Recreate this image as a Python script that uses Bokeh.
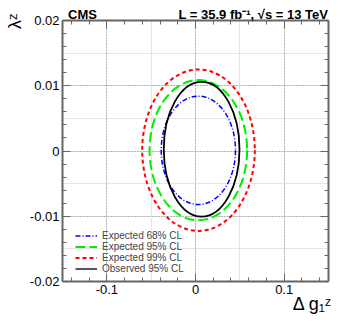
from bokeh.plotting import figure
from bokeh.models import (LinearAxis, FixedTicker, Legend, LegendItem, Range1d, Grid)
from bokeh.embed import file_html
from bokeh.resources import INLINE

# ---- data ----
contour_names = ["Expected 68% CL", "Expected 95% CL", "Expected 99% CL", "Observed 95% CL"]
center_dg1z = [0.0032, 0.0032, 0.0034, 0.0069]
center_lamz = [0.0001, 0.00012, 0.00012, 0.00027]
width_dg1z = [0.0838, 0.110, 0.127, 0.0854]
height_lamz = [0.01661, 0.02149, 0.02475, 0.02066]

x_major = [-0.1, 0.0, 0.1]
x_labels = ["-0.1", "0", "0.1"]
x_minor = [-0.14, -0.12, -0.08, -0.06, -0.04, -0.02, 0.02, 0.04, 0.06, 0.08, 0.12, 0.14]
y_major = [-0.02, -0.01, 0.0, 0.01, 0.02]
y_labels = ["-0.02", "-0.01", "0", "0.01", "0.02"]
y_minor = [-0.018, -0.016, -0.014, -0.012, -0.008, -0.006, -0.004, -0.002,
           0.002, 0.004, 0.006, 0.008, 0.012, 0.014, 0.016, 0.018]

header_texts = ["CMS", "L = 35.9 fb\u207b\u00b9, \u221as = 13 TeV"]
x_title = "\u0394 g\u2081\u1dbb"
y_title = "\u03bb\u1dbb"

# text anchor positions (layout, in axis units)
header_pos = [-0.1274, 0.0652]
x_title_pos = [0.1320]
y_title_pos = [0.0199]

colors = ["#0000ff", "#00ee00", "#ff0000", "#000000"]
legend_colors = ["#0000ff", "#00ee00", "#ff0000", "#444444"]
dashes = ["5 2 1 2", "10 4", "4 3", "solid"]
widths = [1.5, 2, 2, 1.8]

FONT = "Liberation Sans"

p = figure(width=333, height=317, output_backend="svg", toolbar_location=None,
           x_range=Range1d(-0.15, 0.15), y_range=Range1d(-0.02, 0.02),
           min_border_left=62, min_border_right=5, min_border_top=20, min_border_bottom=36,
           x_axis_location=None, y_axis_location=None)
p.outline_line_color = None
p.background_fill_color = "white"
p.border_fill_color = "white"

axis_color = "#666666"

def frame_axis(major, labels, minor, show_labels):
    ax = LinearAxis()
    ax.ticker = FixedTicker(ticks=major, minor_ticks=minor)
    ax.axis_line_color = axis_color
    ax.axis_line_width = 2
    ax.major_tick_line_color = axis_color
    ax.minor_tick_line_color = axis_color
    ax.major_tick_in = 8
    ax.major_tick_out = 0
    ax.minor_tick_in = 4
    ax.minor_tick_out = 0
    ax.major_label_text_font = FONT
    ax.major_label_text_color = "black"
    if show_labels:
        ax.major_label_overrides = {m: l for m, l in zip(major, labels)}
        ax.major_label_text_font_size = "13px"
        ax.major_label_standoff = 3
    else:
        ax.major_label_text_font_size = "1px"
        ax.major_label_text_color = None
        ax.major_label_standoff = 0
    return ax

def text_axis(pos, texts, size, standoff, bold=False, orientation="horizontal"):
    ax = LinearAxis()
    ax.ticker = FixedTicker(ticks=pos, minor_ticks=[])
    ax.major_label_overrides = {m: t for m, t in zip(pos, texts)}
    ax.axis_line_color = None
    ax.major_tick_line_color = None
    ax.minor_tick_line_color = None
    ax.major_tick_in = 0
    ax.major_tick_out = 0
    ax.minor_tick_in = 0
    ax.minor_tick_out = 0
    ax.major_label_text_font = FONT
    ax.major_label_text_font_size = size
    ax.major_label_text_color = "black"
    ax.major_label_standoff = standoff
    ax.major_label_orientation = orientation
    if bold:
        ax.major_label_text_font_style = "bold"
    return ax

p.add_layout(frame_axis(x_major, x_labels, x_minor, True), "below")
p.add_layout(text_axis(x_title_pos, [x_title], "18px", -3), "below")
p.add_layout(frame_axis(x_major, x_labels, x_minor, False), "above")
p.add_layout(text_axis(header_pos, header_texts, "13px", -1, bold=True), "above")
p.add_layout(frame_axis(y_major, y_labels, y_minor, True), "left")
p.add_layout(text_axis(y_title_pos, [y_title], "18px", 1, orientation="vertical"), "left")
p.add_layout(frame_axis(y_major, y_labels, y_minor, False), "right")

gx = Grid(dimension=0, ticker=FixedTicker(ticks=x_major), grid_line_color="#888888",
          grid_line_dash="1 2", grid_line_width=1)
gy = Grid(dimension=1, ticker=FixedTicker(ticks=y_major), grid_line_color="#888888",
          grid_line_dash="1 2", grid_line_width=1)
p.add_layout(gx)
p.add_layout(gy)

items = []
for i in range(len(contour_names)):
    p.ellipse(x=[center_dg1z[i]], y=[center_lamz[i]], width=[width_dg1z[i]], height=[height_lamz[i]],
              fill_alpha=0, line_color=colors[i], line_width=widths[i], line_dash=dashes[i])
    # one-point line: invisible in the frame, gives a line sample in the legend
    r = p.line(x=[center_dg1z[i]], y=[center_lamz[i]], line_color=legend_colors[i],
               line_width=widths[i], line_dash=dashes[i])
    items.append(LegendItem(label=contour_names[i], renderers=[r]))

leg = Legend(items=items, location=(13, 7), padding=0, margin=0, spacing=0,
             glyph_width=22, glyph_height=9, label_height=9, label_standoff=5,
             label_text_font=FONT, label_text_font_size="10px", label_text_line_height=0.9,
             border_line_alpha=0, background_fill_alpha=0)
p.add_layout(leg)

open("out.html", "w").write(file_html(p, INLINE))
